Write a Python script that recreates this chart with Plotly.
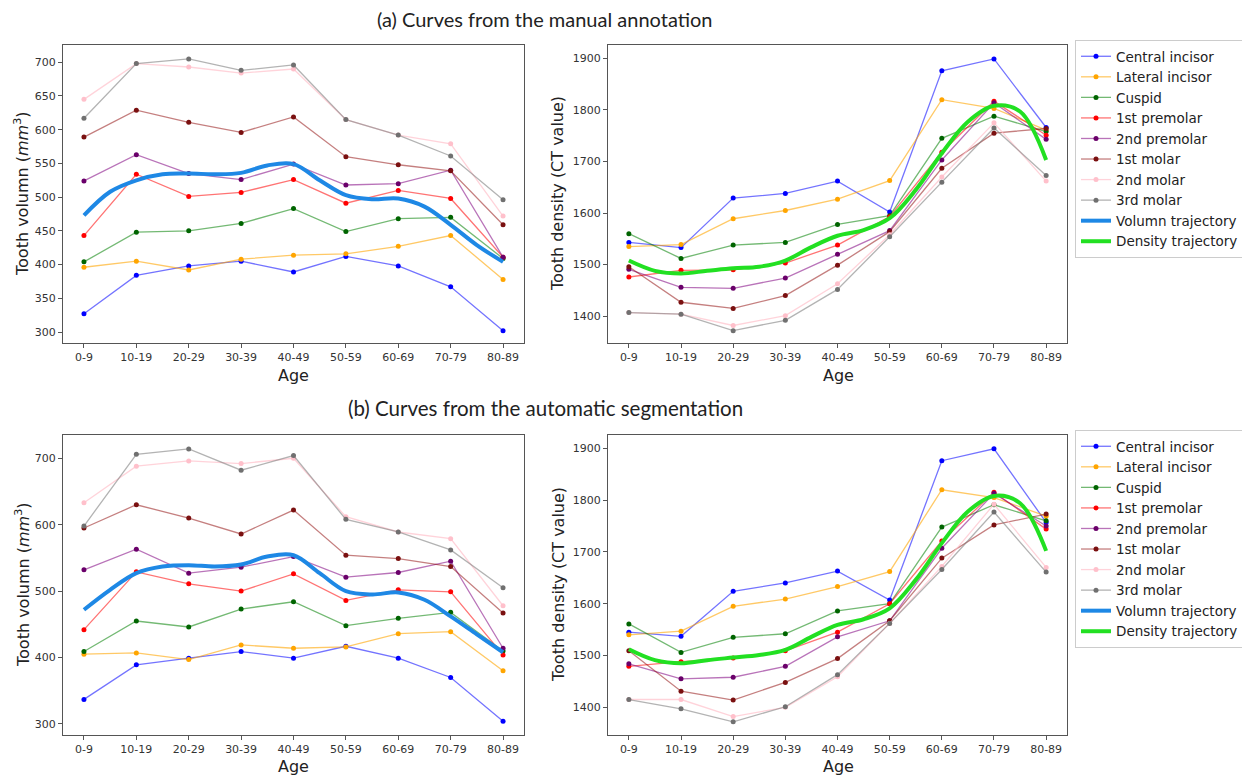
import plotly.graph_objects as go

ages = ["0-9", "10-19", "20-29", "30-39", "40-49", "50-59", "60-69", "70-79", "80-89"]
teeth = ["Central incisor", "Lateral incisor", "Cuspid", "1st premolar", "2nd premolar",
         "1st molar", "2nd molar", "3rd molar"]

# (a) manual annotation - volume
vol_a_central = [327, 384, 398, 405, 389, 412, 398, 367, 302]
vol_a_lateral = [396, 405, 392, 408, 414, 416, 427, 443, 378]
vol_a_cuspid = [404, 448, 450, 461, 483, 449, 468, 470, 409]
vol_a_pm1 = [443, 534, 501, 507, 526, 491, 510, 498, 411]
vol_a_pm2 = [524, 563, 535, 526, 549, 518, 520, 540, 411]
vol_a_m1 = [589, 629, 611, 596, 619, 560, 548, 539, 459]
vol_a_m2 = [645, 698, 693, 684, 690, 615, 592, 579, 472]
vol_a_m3 = [617, 698, 705, 688, 696, 615, 592, 561, 496]

# (a) manual annotation - density
den_a_central = [1543, 1533, 1629, 1638, 1662, 1602, 1876, 1899, 1766]
den_a_lateral = [1535, 1539, 1589, 1605, 1627, 1663, 1820, 1803, 1761]
den_a_cuspid = [1560, 1512, 1538, 1543, 1578, 1595, 1745, 1788, 1758]
den_a_pm1 = [1476, 1489, 1490, 1503, 1538, 1593, 1718, 1817, 1751]
den_a_pm2 = [1491, 1456, 1454, 1474, 1520, 1566, 1703, 1814, 1743]
den_a_m1 = [1496, 1427, 1415, 1440, 1499, 1564, 1687, 1755, 1764]
den_a_m2 = [1407, 1404, 1382, 1401, 1463, 1558, 1670, 1775, 1662]
den_a_m3 = [1407, 1404, 1372, 1392, 1452, 1554, 1660, 1765, 1673]

# (b) automatic segmentation - volume
vol_b_central = [337, 389, 399, 409, 399, 417, 399, 370, 304]
vol_b_lateral = [405, 407, 397, 419, 414, 416, 436, 439, 380]
vol_b_cuspid = [409, 455, 446, 473, 484, 448, 459, 468, 410]
vol_b_pm1 = [442, 529, 511, 500, 526, 486, 502, 499, 404]
vol_b_pm2 = [532, 563, 527, 536, 552, 521, 528, 545, 414]
vol_b_m1 = [595, 630, 610, 586, 622, 554, 549, 537, 467]
vol_b_m2 = [633, 688, 696, 692, 700, 612, 589, 579, 478]
vol_b_m3 = [598, 706, 714, 682, 704, 608, 589, 562, 505]

# (b) automatic segmentation - density
den_b_central = [1545, 1537, 1624, 1640, 1663, 1607, 1876, 1899, 1757]
den_b_lateral = [1540, 1547, 1595, 1609, 1633, 1662, 1820, 1805, 1769]
den_b_cuspid = [1561, 1506, 1535, 1542, 1586, 1600, 1748, 1791, 1760]
den_b_pm1 = [1479, 1488, 1495, 1509, 1545, 1600, 1721, 1815, 1744]
den_b_pm2 = [1484, 1455, 1458, 1479, 1536, 1567, 1707, 1813, 1750]
den_b_m1 = [1509, 1431, 1414, 1448, 1494, 1567, 1688, 1752, 1773]
den_b_m2 = [1415, 1415, 1382, 1400, 1459, 1562, 1672, 1792, 1670]
den_b_m3 = [1415, 1397, 1372, 1401, 1463, 1562, 1666, 1777, 1661]

# smooth trajectories, read at half-step positions along the age axis
traj_x = [0, 0.5, 1, 1.5, 2, 2.5, 3, 3.5, 4, 4.5, 5, 5.5, 6, 6.5, 7, 7.5, 8]
vol_traj_a = [473, 508, 525, 534, 535, 534, 536, 547, 549, 525, 503, 497, 498, 486, 459, 429, 404]
den_traj_a = [1508, 1488, 1483, 1488, 1493, 1496, 1508, 1534, 1556, 1567, 1590, 1645, 1716, 1777, 1808, 1797, 1703]
vol_traj_b = [472, 502, 527, 537, 539, 537, 540, 552, 554, 527, 500, 495, 498, 487, 462, 435, 408]
den_traj_b = [1512, 1491, 1485, 1491, 1496, 1501, 1511, 1536, 1559, 1570, 1591, 1646, 1717, 1778, 1808, 1794, 1702]

marker_colors = ["#0000ff", "#ffa500", "#006400", "#ff0000", "#6a006a", "#7a1010", "#ffc0cb", "#707070"]
line_colors = ["rgba(0,0,255,0.55)", "rgba(255,165,0,0.6)", "rgba(0,128,0,0.55)", "rgba(255,0,0,0.55)",
               "rgba(128,0,128,0.55)", "rgba(139,0,0,0.5)", "rgba(255,192,203,0.7)", "rgba(128,128,128,0.6)"]

vol_a = [vol_a_central, vol_a_lateral, vol_a_cuspid, vol_a_pm1, vol_a_pm2, vol_a_m1, vol_a_m2, vol_a_m3]
den_a = [den_a_central, den_a_lateral, den_a_cuspid, den_a_pm1, den_a_pm2, den_a_m1, den_a_m2, den_a_m3]
vol_b = [vol_b_central, vol_b_lateral, vol_b_cuspid, vol_b_pm1, vol_b_pm2, vol_b_m1, vol_b_m2, vol_b_m3]
den_b = [den_b_central, den_b_lateral, den_b_cuspid, den_b_pm1, den_b_pm2, den_b_m1, den_b_m2, den_b_m3]

xi = list(range(len(ages)))
# the page body has an 8px margin, so the figure is sized to fit inside the window
OFF = 8
W, H = 1250 - OFF, 778 - OFF


def px(x):
    return (x - OFF) / W


def py(y):
    return 1 - (y - OFF) / H


fig = go.Figure()


def add_teeth(data, xa, ya, show, leg):
    for name, vals, mc, lc in zip(teeth, data, marker_colors, line_colors):
        fig.add_trace(go.Scatter(
            x=xi, y=vals, name=name, mode="lines+markers",
            line=dict(color=lc, width=1.3),
            marker=dict(color=mc, size=5),
            xaxis=xa, yaxis=ya, showlegend=show, legend=leg))


VOL_COLOR = "#1e88e5"
DEN_COLOR = "#22e022"

# panel (a)
add_teeth(vol_a, "x", "y", False, "legend")
add_teeth(den_a, "x2", "y2", True, "legend")
fig.add_trace(go.Scatter(x=traj_x, y=vol_traj_a, name="Volumn trajectory", mode="lines",
                         line=dict(color=VOL_COLOR, width=4, shape="spline", smoothing=1.0),
                         xaxis="x", yaxis="y", legend="legend"))
fig.add_trace(go.Scatter(x=traj_x, y=den_traj_a, name="Density trajectory", mode="lines",
                         line=dict(color=DEN_COLOR, width=4, shape="spline", smoothing=1.0),
                         xaxis="x2", yaxis="y2", legend="legend"))

# panel (b)
add_teeth(vol_b, "x3", "y3", False, "legend2")
add_teeth(den_b, "x4", "y4", True, "legend2")
fig.add_trace(go.Scatter(x=traj_x, y=vol_traj_b, name="Volumn trajectory", mode="lines",
                         line=dict(color=VOL_COLOR, width=4, shape="spline", smoothing=1.0),
                         xaxis="x3", yaxis="y3", legend="legend2"))
fig.add_trace(go.Scatter(x=traj_x, y=den_traj_b, name="Density trajectory", mode="lines",
                         line=dict(color=DEN_COLOR, width=4, shape="spline", smoothing=1.0),
                         xaxis="x4", yaxis="y4", legend="legend2"))

tick_font = dict(family="DejaVu Sans", size=11, color="#333333")
frame = dict(showline=True, linecolor="#555555", linewidth=1.3, mirror=True,
             ticks="outside", ticklen=4, tickcolor="#555555", showgrid=False, zeroline=False,
             tickfont=tick_font)


def xaxis(dom, anchor):
    return dict(domain=dom, anchor=anchor, range=[-0.4, 8.4], tickmode="array",
                tickvals=xi, ticktext=ages, **frame)


def yaxis(dom, anchor, rng, dtick):
    return dict(domain=dom, anchor=anchor, range=rng, dtick=dtick, **frame)


xl = [px(63), px(524)]
xr = [px(608), px(1067)]
yt = [py(343), py(45)]
yb = [py(735), py(435)]

vol_title = "Tooth volumn (<i>mm</i><sup>3</sup>)"
den_title = "Tooth density (CT value)"

legend_style = dict(font=dict(family="DejaVu Sans", size=13.5, color="#222222"),
                    bgcolor="white", bordercolor="#cccccc", borderwidth=1,
                    xanchor="left", yanchor="top", tracegroupgap=0, itemwidth=30)


def ann(text, x, y, size, family="DejaVu Sans", angle=0):
    return dict(text=text, x=px(x), y=py(y), xref="paper", yref="paper", showarrow=False,
                textangle=angle, font=dict(family=family, size=size, color="#222222"),
                xanchor="center", yanchor="middle")


annotations = [
    ann("(a) Curves from the manual annotation", 545, 19, 20, family="Lato"),
    ann("(b) Curves from the automatic segmentation", 545, 408, 20.5, family="Lato"),
    ann("Age", 293, 376, 16), ann("Age", 838, 376, 16),
    ann("Age", 293, 766, 16), ann("Age", 838, 766, 16),
    ann(vol_title, 22, 194, 16, angle=-90), ann(den_title, 558, 194, 16, angle=-90),
    ann(vol_title, 22, 585, 16, angle=-90), ann(den_title, 558, 585, 16, angle=-90),
]

fig.update_layout(
    width=W, height=H,
    margin=dict(l=0, r=0, t=0, b=0),
    paper_bgcolor="white", plot_bgcolor="white",
    xaxis=xaxis(xl, "y"), yaxis=yaxis(yt, "x", [283.7, 725.6], 50),
    xaxis2=xaxis(xr, "y2"), yaxis2=yaxis(yt, "x2", [1348, 1926], 100),
    xaxis3=xaxis(xl, "y3"), yaxis3=yaxis(yb, "x3", [283.4, 735], 100),
    xaxis4=xaxis(xr, "y4"), yaxis4=yaxis(yb, "x4", [1346.5, 1925.7], 100),
    legend=dict(x=px(1075), y=py(40), **legend_style),
    legend2=dict(x=px(1075), y=py(430), **legend_style),
    annotations=annotations,
)

fig.write_html("out.html")
